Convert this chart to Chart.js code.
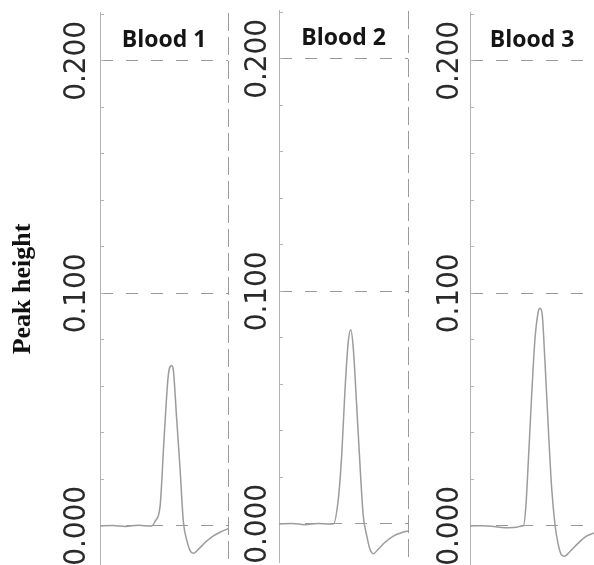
<!DOCTYPE html>
<html><head><meta charset="utf-8">
<script src="https://cdn.jsdelivr.net/npm/chart.js@4.4.1/dist/chart.umd.min.js"></script>
<style>
html,body{margin:0;padding:0;background:#fff;overflow:hidden;width:594px;height:565px}
#wrap{position:relative;width:594px;height:565px;overflow:hidden;background:#fff}
canvas{position:absolute}
</style></head><body>
<div id="wrap">
<canvas id="c1" width="230" height="565" style="left:0;top:0"></canvas>
<canvas id="c2" width="180" height="565" style="left:230px;top:-2px"></canvas>
<canvas id="c3" width="174" height="565" style="left:420px;top:0"></canvas>
</div>
<script>
// ---- data ----
const panelTitles = ['Blood 1', 'Blood 2', 'Blood 3'];
const yAxisTitle = 'Peak height';
const majorTicks = [0, 0.1, 0.2];
const tickLabels = ['0.000', '0.100', '0.200'];

const blood1Time   = [0, 1, 2, 3, 3.5, 4.04, 4.30, 4.69, 5.00, 5.34, 5.60, 5.73, 5.99, 6.25, 6.51, 6.77, 7.03, 7.29, 7.66, 8.20, 8.83, 9.38, 10];
const blood1Height = [0, 0.0002, -0.0002, 0.0003, 0.0001, 0.0, 0.002, 0.0083, 0.037, 0.065, 0.069, 0.067, 0.046, 0.025, 0.002, -0.006, -0.0105, -0.0118, -0.0102, -0.0072, -0.0044, -0.0027, -0.0012];

const blood2Time   = [0, 1, 2, 3, 4, 4.21, 4.60, 4.86, 5.12, 5.37, 5.56, 5.76, 6.02, 6.28, 6.53, 6.80, 7.05, 7.31, 7.70, 8.22, 8.86, 9.64, 10];
const blood2Height = [0, 0.0002, -0.0003, 0.0002, 0.0, 0.0, 0.0108, 0.0295, 0.058, 0.0784, 0.0835, 0.0755, 0.051, 0.0252, 0.0036, -0.005, -0.0108, -0.0128, -0.0108, -0.0079, -0.0052, -0.0035, -0.003];

const blood3Time   = [0, 1, 2, 3, 3.6, 4.0, 4.13, 4.32, 4.52, 4.78, 5.04, 5.29, 5.43, 5.60, 5.81, 6.07, 6.33, 6.59, 6.84, 7.10, 7.31, 7.75, 8.37, 8.99, 9.61];
const blood3Height = [0, 0.0001, -0.0004, -0.0008, -0.0006, 0.0, 0.0, 0.0076, 0.0277, 0.0563, 0.0807, 0.0921, 0.0936, 0.0907, 0.0706, 0.042, 0.0162, 0.0004, -0.008, -0.0125, -0.013, -0.011, -0.0075, -0.0045, -0.003];

// ---- styling ----
const axisColor = '#b4b4b4';
const gridColor = '#9a9a9a';
const lineColor = '#9c9c9c';
const clear = 'rgba(0,0,0,0)';

function majorIndex(v) {
  for (let i = 0; i < majorTicks.length; i++) if (Math.abs(v - majorTicks[i]) < 1e-6) return i;
  return -1;
}
function isMinor(v) {
  const r = v / 0.02;
  return Math.abs(r - Math.round(r)) < 1e-6;
}

function makePanel(id, title, xs, ys, o) {
  new Chart(document.getElementById(id), {
    type: 'line',
    data: {
      datasets: [{
        data: xs.map((x, i) => ({x: x, y: ys[i]})),
        borderColor: lineColor,
        borderWidth: 1.5,
        pointRadius: 0,
        fill: false,
        cubicInterpolationMode: 'monotone'
      }]
    },
    options: {
      responsive: false,
      animation: false,
      devicePixelRatio: 1,
      layout: {autoPadding: false, padding: {top: 0, bottom: 0, left: 0, right: o.padRight}},
      plugins: {
        legend: {display: false},
        tooltip: {enabled: false},
        title: {
          display: true, text: title, fullSize: false, align: 'center', color: '#151515',
          font: {family: '"Open Sans", sans-serif', size: 23, weight: 'bold', lineHeight: 1.2},
          padding: {top: 27, bottom: -41.6}
        }
      },
      scales: {
        x: {
          type: 'linear', min: 0, max: o.xMax,
          afterFit: s => { s.height = 0; },
          ticks: {display: false, stepSize: 10},
          grid: {
            color: ctx => (ctx.tick && Math.abs(ctx.tick.value - 10) < 1e-9) ? gridColor : clear,
            lineWidth: 1, drawTicks: false
          },
          border: {display: false, dash: [18, 6]}
        },
        y: {
          type: 'linear', min: -0.0168, max: 0.2206,
          afterFit: s => { s.width = o.axisWidth; s.paddingTop = 0; s.paddingBottom = 0; },
          title: {
            display: o.showTitle, text: yAxisTitle, color: '#111',
            font: {family: '"Liberation Serif", "Times New Roman", serif', size: 26, weight: 'bold', lineHeight: 1.2},
            padding: {top: 8, bottom: 0}
          },
          ticks: {
            stepSize: 0.02, includeBounds: false, autoSkip: false,
            minRotation: 90, maxRotation: 90, crossAlign: 'center', padding: o.tickPad,
            color: '#2a2a2a',
            font: {family: '"DejaVu Sans Condensed", "DejaVu Sans", sans-serif', size: 31, lineHeight: 0.5},
            callback: v => { const k = majorIndex(v); return k >= 0 ? tickLabels[k] : ''; }
          },
          grid: {
            color: ctx => (ctx.tick && majorIndex(ctx.tick.value) >= 0) ? gridColor : clear,
            lineWidth: 1, drawTicks: true, tickLength: -4,
            tickColor: ctx => (ctx.tick && isMinor(ctx.tick.value)) ? axisColor : clear,
            tickWidth: 1
          },
          border: {display: true, color: axisColor, width: 1, dash: [12, 13]}
        }
      }
    }
  });
}

makePanel('c1', panelTitles[0], blood1Time, blood1Height, {axisWidth: 100, padRight: 2, xMax: 10, showTitle: true, tickPad: -13});
makePanel('c2', panelTitles[1], blood2Time, blood2Height, {axisWidth: 49, padRight: 2, xMax: 10, showTitle: false, tickPad: -15});
makePanel('c3', panelTitles[2], blood3Time, blood3Height, {axisWidth: 50, padRight: 0, xMax: 9.61, showTitle: false, tickPad: -16});
</script>
</body></html>
